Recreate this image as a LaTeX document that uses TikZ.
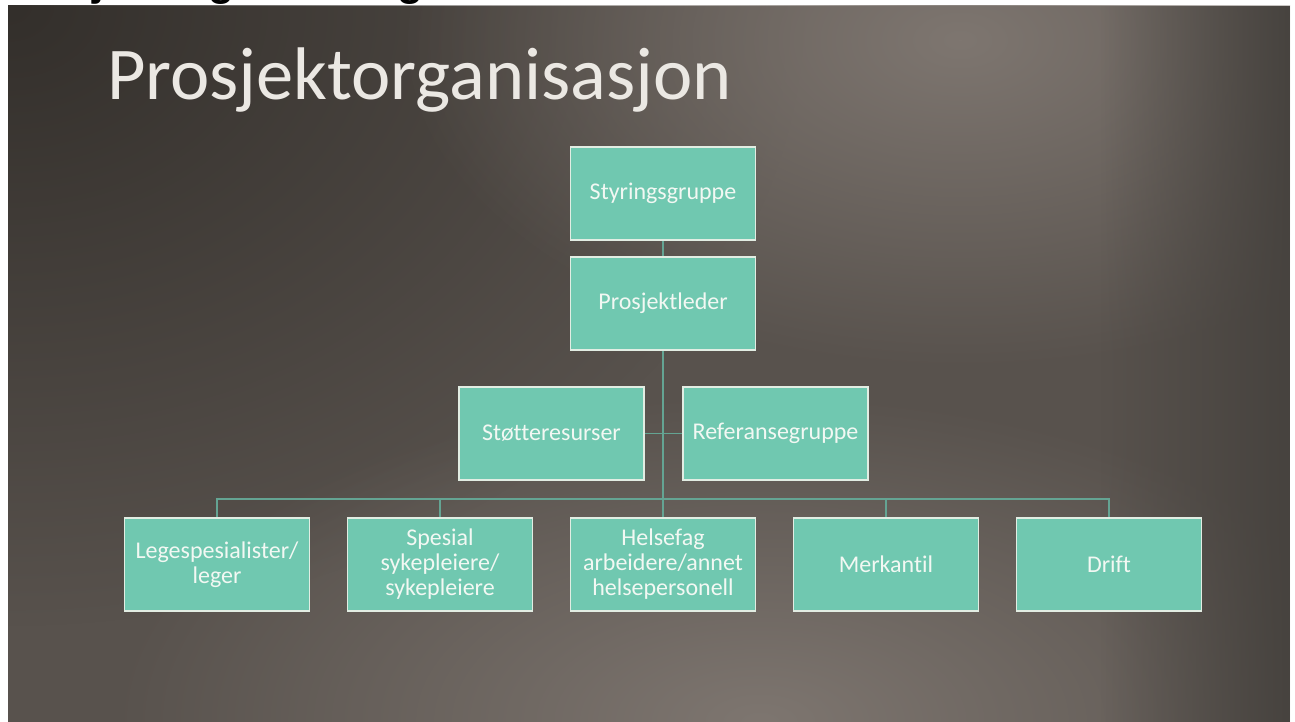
\documentclass[tikz,border=0pt]{standalone}
\usepackage{fontspec}
\setmainfont[Ligatures=NoCommon]{Carlito}
\newfontfamily\topfont{Liberation Sans}
\usetikzlibrary{fadings}
\definecolor{boxfill}{HTML}{70C8B0}
\definecolor{boxline}{HTML}{E2EDE3}
\definecolor{conncol}{HTML}{64A493}
\definecolor{boxtext}{HTML}{F2F8F3}
\definecolor{titlecol}{HTML}{EBE8E3}
\definecolor{bgbase}{HTML}{58524D}
\definecolor{bgdark}{HTML}{332F2B}
\definecolor{bglight}{HTML}{7E7670}
\definecolor{bgedge}{HTML}{47433F}
\tikzfading[name=radfade, inner color=transparent!0, outer color=transparent!100]
\tikzfading[name=faderight, left color=transparent!100, right color=transparent!0]
\begin{document}
\begin{tikzpicture}[x=1pt,y=-1pt,
  orgbox/.style={draw=boxline, line width=1.6pt, fill=boxfill, text=boxtext,
    minimum width=185pt, minimum height=93pt, inner sep=2pt, align=center,
    font=\fontsize{24}{25}\selectfont},
  conn/.style={draw=conncol, line width=1.8pt}]
\useasboundingbox (0,0) rectangle (1295,722);
\fill[white] (0,0) rectangle (1295,722);
% cut-off heading above the slide
\begin{scope}
\clip (0,0) rectangle (1295,6);
\node[anchor=base west, inner sep=0, font=\topfont\bfseries\fontsize{42.5}{45}\selectfont] (cut) at (-2,-4) {Prosjektorganisering};
\end{scope}
% slide background
\begin{scope}
\clip (8,6) rectangle (1290,722);
\fill[bgbase] (8,6) rectangle (1290,722);
\fill[bgdark, path fading=radfade] (8,6) ellipse (800 and 620);
\fill[bglight, path fading=radfade] (960,40) ellipse (560 and 330);
\fill[bglight, path fading=radfade] (760,722) ellipse (650 and 330);
\fill[bgedge, path fading=faderight] (1100,6) rectangle (1290,722);
\end{scope}
% title
\node[anchor=base west, inner sep=0, text=titlecol, font=\fontsize{74.5}{80}\selectfont] (title) at (107,100) {Prosjektorganisasjon};
% bar ends
\coordinate (barL) at (217,499);
\coordinate (barR) at (1109,499);
% connectors
\draw[conn] (663,240) -- (663,257);
\draw[conn] (663,350) -- (663,518);
\draw[conn] (644,433.5) -- (683,433.5);
\draw[conn] (217,518) |- (barR) -- (1109,518);
\draw[conn] (440,499) -- (440,518);
\draw[conn] (886,499) -- (886,518);
% boxes
\node[orgbox] (sty) at (663,193.5) {Styringsgruppe};
\node[orgbox] (pro) at (663,303.5) {Prosjektleder};
\node[orgbox] (sto) at (551.5,433.5) {Støtteresurser};
\node[orgbox] (ref) at (775.5,433.5) {Referansegruppe};
\node[orgbox] (lege) at (217,564.5) {Legespesialister/\\leger};
\node[orgbox] (spes) at (440,564.5) {Spesial\\sykepleiere/\\sykepleiere};
\node[orgbox] (hel) at (663,564.5) {Helsefag\\arbeidere/annet\\helsepersonell};
\node[orgbox] (mer) at (886,564.5) {Merkantil};
\node[orgbox] (dri) at (1109,564.5) {Drift};
\end{tikzpicture}
\end{document}
